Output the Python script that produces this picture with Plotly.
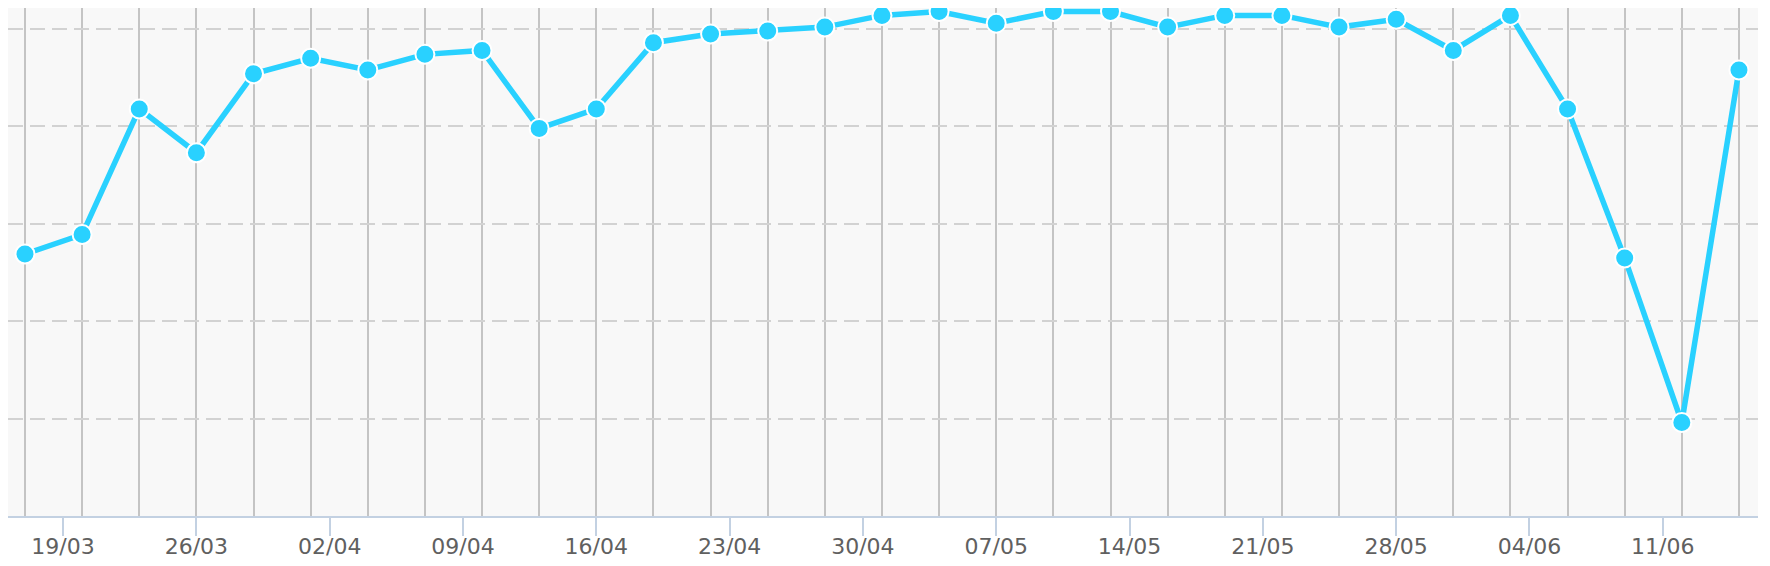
import datetime as dt
import plotly.graph_objects as go

# ---- data ----
start = dt.date(2018, 3, 17)
dates = [start + dt.timedelta(days=3 * i) for i in range(31)]
values = [2.69, 2.89, 4.18, 3.73, 4.54, 4.70, 4.58, 4.74, 4.78, 3.98,
          4.18, 4.86, 4.95, 4.98, 5.02, 5.14, 5.18, 5.06, 5.18, 5.18,
          5.02, 5.14, 5.14, 5.02, 5.10, 4.78, 5.14, 4.18, 2.65, 0.96,
          4.58]
tick_start = dt.date(2018, 3, 19)
tick_dates = [tick_start + dt.timedelta(days=7 * i) for i in range(13)]
tick_labels = [d.strftime("%d/%m") for d in tick_dates]
y_grid = [1, 2, 3, 4, 5]

# ---- styles ----
LINE = "#29d1ff"
x_range = [dt.datetime.combine(dates[0], dt.time()) - dt.timedelta(hours=21.4),
           dt.datetime.combine(dates[-1], dt.time()) + dt.timedelta(hours=24)]

fig = go.Figure()
fig.add_trace(go.Scatter(
    x=dates, y=values, mode="lines+markers",
    line=dict(color=LINE, width=5.5),
    marker=dict(size=19, color=LINE, line=dict(color="white", width=2)),
    showlegend=False, hoverinfo="x+y",
))
# invisible trace to activate the labelled overlay axis
fig.add_trace(go.Scatter(x=[dates[0]], y=[None], xaxis="x2", showlegend=False,
                         hoverinfo="skip"))

fig.update_layout(
    width=1754, height=550,
    margin=dict(l=0, r=4, t=0, b=42),
    paper_bgcolor="white", plot_bgcolor="#f8f8f8",
    xaxis=dict(
        type="date", range=x_range,
        tickvals=dates, showticklabels=False, ticks="",
        showgrid=True, gridcolor="#c4c4c4", gridwidth=2,
        showline=False, zeroline=False,
    ),
    xaxis2=dict(
        type="date", range=x_range, overlaying="x", anchor="y", side="bottom",
        tickvals=tick_dates, ticktext=tick_labels,
        ticks="outside", ticklen=18, tickcolor="#c3d1e2", tickwidth=1.5,
        ticklabelstandoff=-8,
        showgrid=False, showline=True, linecolor="#c3d1e2", linewidth=1.5,
        tickfont=dict(family="DejaVu Sans", size=22, color="#606060"),
        zeroline=False,
    ),
    yaxis=dict(
        range=[0, 5.216], tickvals=y_grid, showticklabels=False, ticks="",
        showgrid=True, gridcolor="#d2d2d2", gridwidth=2, griddash="15px,7px",
        zeroline=False, showline=False,
    ),
)

fig.write_html("out.html")
